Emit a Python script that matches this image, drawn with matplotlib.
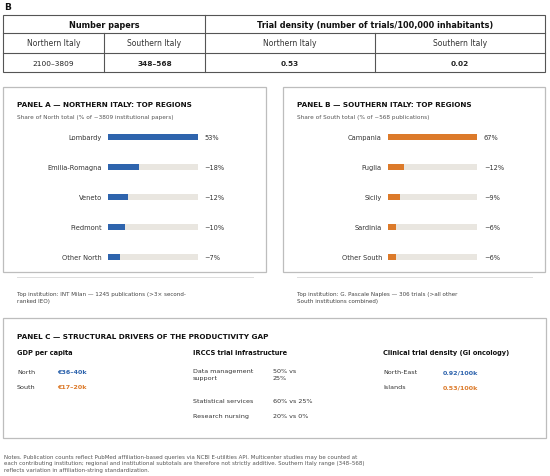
import matplotlib
matplotlib.use("Agg")
import matplotlib.pyplot as plt
from matplotlib.patches import Rectangle

W, H = 550, 477
plt.rcParams['font.family'] = ['DejaVu Sans']

# ---- data ----
tbl_groups = ["Number papers", "Trial density (number of trials/100,000 inhabitants)"]
tbl_sub = ["Northern Italy", "Southern Italy", "Northern Italy", "Southern Italy"]
tbl_vals = ["2100\u20133809", "348\u2013568", "0.53", "0.02"]
tbl_bold = [False, True, True, True]

north_regions = ["Lombardy", "Emilia-Romagna", "Veneto", "Piedmont", "Other North"]
north_share = [53, 18, 12, 10, 7]
north_labels = ["53%", "~18%", "~12%", "~10%", "~7%"]
south_regions = ["Campania", "Puglia", "Sicily", "Sardinia", "Other South"]
south_share = [67, 12, 9, 6, 6]
south_labels = ["67%", "~12%", "~9%", "~6%", "~6%"]

gdp_rows = [("North", "\u20ac36\u201340k"), ("South", "\u20ac17\u201320k")]
irccs_rows = [("Data management\nsupport", "50% vs\n25%"),
              ("Statistical services", "60% vs 25%"),
              ("Research nursing", "20% vs 0%")]
density_rows = [("North-East", "0.92/100k"), ("Islands", "0.53/100k")]

BLUE = "#2e64ad"
ORANGE = "#dc7a2a"
TRACK = "#e9e6e0"
BOX = "#bdbdbd"

fig = plt.figure(figsize=(W/100, H/100), dpi=100)
ax = fig.add_axes([0, 0, 1, 1])
ax.set_xlim(0, W)
ax.set_ylim(H, 0)
ax.axis("off")

# ---- B label ----
ax.text(4, 7, "B", fontsize=6.5, fontweight="bold", va="center", ha="left", color="#111")

# ---- table ----
tx = [3, 104, 205, 375, 545]
ty = [16, 34, 54, 73]
lc = "#555555"
ax.add_patch(Rectangle((tx[0], ty[0]), tx[4]-tx[0], ty[3]-ty[0], fill=False, ec=lc, lw=0.8))
ax.plot([tx[0], tx[4]], [ty[1], ty[1]], color=lc, lw=0.8)
ax.plot([tx[0], tx[4]], [ty[2], ty[2]], color=lc, lw=0.8)
ax.plot([tx[2], tx[2]], [ty[0], ty[3]], color=lc, lw=0.8)
ax.plot([tx[1], tx[1]], [ty[1], ty[3]], color=lc, lw=0.8)
ax.plot([tx[3], tx[3]], [ty[1], ty[3]], color=lc, lw=0.8)
ax.text((tx[0]+tx[2])/2, (ty[0]+ty[1])/2, tbl_groups[0], fontsize=5.9, fontweight="bold",
        ha="center", va="center", color="#111")
ax.text((tx[2]+tx[4])/2, (ty[0]+ty[1])/2, tbl_groups[1], fontsize=5.9, fontweight="bold",
        ha="center", va="center", color="#111")
for i in range(4):
    cx = (tx[i]+tx[i+1])/2
    ax.text(cx, (ty[1]+ty[2])/2, tbl_sub[i], fontsize=5.5, ha="center", va="center", color="#333")
    ax.text(cx, (ty[2]+ty[3])/2, tbl_vals[i], fontsize=5.3, ha="center", va="center",
            color="#222", fontweight="bold" if tbl_bold[i] else "normal")

# ---- panels A and B ----
def panel(x0, x1, title, subtitle, regions, shares, labels, color, bx0, bx1, lab_x, val_x, note):
    ax.add_patch(Rectangle((x0, 88), x1-x0, 185, fill=False, ec=BOX, lw=0.9))
    ax.text(x0+14, 105, title, fontsize=5.2, fontweight="bold", ha="left", va="center", color="#111")
    ax.text(x0+14, 117, subtitle, fontsize=4.15, ha="left", va="center", color="#555")
    top, bot = 123, 273
    bax = fig.add_axes([bx0/W, 1-bot/H, (bx1-bx0)/W, (bot-top)/H])
    n = len(regions)
    ypos = list(range(n))
    mx = max(shares)
    bax.barh(ypos, [mx]*n, height=0.2, color=TRACK, zorder=1)
    bax.barh(ypos, shares, height=0.2, color=color, zorder=2)
    bax.set_xlim(0, mx)
    bax.set_ylim(n-0.5, -0.5)
    bax.axis("off")
    for i in ypos:
        bax.text(-(bx0-lab_x)/(bx1-bx0)*mx, i, regions[i], fontsize=4.8, ha="right", va="center", color="#333")
        bax.text(mx + (val_x-bx1)/(bx1-bx0)*mx, i, labels[i], fontsize=4.8, ha="left", va="center", color="#333")
    ax.plot([x0+14, x1-13], [278, 278], color="#dddddd", lw=0.7)
    ax.text(x0+14, 298, note, fontsize=4.1, ha="left", va="center", color="#444", linespacing=1.4)

panel(3, 266, "PANEL A \u2014 NORTHERN ITALY: TOP REGIONS",
      "Share of North total (% of ~3809 institutional papers)",
      north_regions, north_share, north_labels, BLUE, 108, 198, 102, 204,
      "Top institution: INT Milan \u2014 1245 publications (>3\u00d7 second-\nranked IEO)")
panel(283, 545, "PANEL B \u2014 SOUTHERN ITALY: TOP REGIONS",
      "Share of South total (% of ~568 publications)",
      south_regions, south_share, south_labels, ORANGE, 388, 477, 382, 484,
      "Top institution: G. Pascale Naples \u2014 306 trials (>all other\nSouth institutions combined)")

# ---- panel C ----
ax.add_patch(Rectangle((3, 319), 543, 120, fill=False, ec=BOX, lw=0.9))
ax.text(17, 337, "PANEL C \u2014 STRUCTURAL DRIVERS OF THE PRODUCTIVITY GAP", fontsize=5.25,
        fontweight="bold", ha="left", va="center", color="#111")
ax.text(17, 353, "GDP per capita", fontsize=4.8, fontweight="bold", ha="left", va="center", color="#111")
ax.text(193, 353, "IRCCS trial infrastructure", fontsize=4.8, fontweight="bold", ha="left", va="center", color="#111")
ax.text(383, 353, "Clinical trial density (GI oncology)", fontsize=4.8, fontweight="bold", ha="left", va="center", color="#111")

row_y = [373, 388]
cols = [BLUE, ORANGE]
for (lab, val), y, c in zip(gdp_rows, row_y, cols):
    ax.text(17, y, lab, fontsize=4.6, ha="left", va="center", color="#333")
    ax.text(57, y, val, fontsize=4.6, fontweight="bold", ha="left", va="center", color=c)
for (lab, val), y, c in zip(density_rows, row_y, cols):
    ax.text(383, y, lab, fontsize=4.6, ha="left", va="center", color="#333")
    ax.text(443, y, val, fontsize=4.6, fontweight="bold", ha="left", va="center", color=c)
irc_y = [373, 402, 417]
for (lab, val), y in zip(irccs_rows, irc_y):
    if "\n" in lab:
        ax.text(193, y-4, lab, fontsize=4.6, ha="left", va="top", color="#333", linespacing=1.45)
        ax.text(273, y-4, val, fontsize=4.6, ha="left", va="top", color="#333", linespacing=1.45)
    else:
        ax.text(193, y, lab, fontsize=4.6, ha="left", va="center", color="#333")
        ax.text(273, y, val, fontsize=4.6, ha="left", va="center", color="#333")

# ---- notes ----
notes = ("Notes. Publication counts reflect PubMed affiliation-based queries via NCBI E-utilities API. Multicenter studies may be counted at\n"
         "each contributing institution; regional and institutional subtotals are therefore not strictly additive. Southern Italy range (348\u2013568)\n"
         "reflects variation in affiliation-string standardization.")
ax.text(4, 464, notes, fontsize=4.0, ha="left", va="center", color="#555", linespacing=1.4)

fig.savefig("out.png", dpi=100)
